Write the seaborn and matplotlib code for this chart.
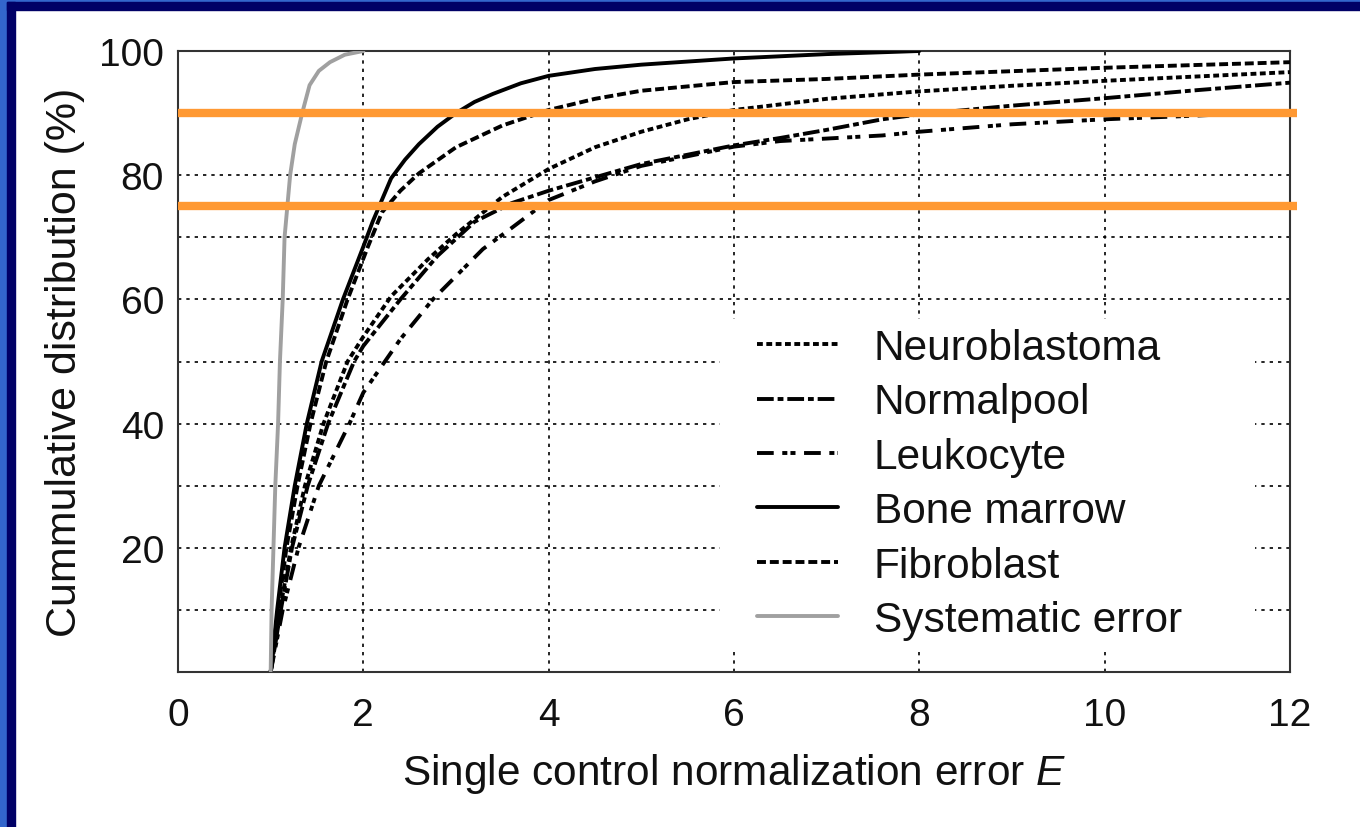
import matplotlib
matplotlib.use("Agg")
import matplotlib.pyplot as plt
from matplotlib.patches import Rectangle
from matplotlib.lines import Line2D
import seaborn as sns
import pandas as pd

# Cumulative distribution of the single-control normalization error E (%)
neuro_x = [1.0, 1.1, 1.22, 1.37, 1.57, 1.83, 2.0, 2.3, 2.7, 3.0, 3.5, 4.0, 4.5, 5.0,
           5.5, 6.0, 7.0, 8.0, 9.0, 10.0, 11.0, 12.0]
neuro_y = [0, 10, 20, 30, 40, 50, 54, 60.5, 66.5, 70.5, 76.5, 81, 84.5, 87,
           89, 90.5, 92.3, 93.5, 94.4, 95.2, 95.9, 96.6]

normal_x = [1.0, 1.11, 1.23, 1.4, 1.62, 1.9, 2.0, 2.4, 2.8, 3.2, 3.6, 4.0, 5.0, 6.0,
            6.5, 7.0, 7.6, 8.0, 9.0, 10.0, 11.0, 12.0]
normal_y = [0, 10, 20, 30, 40, 50, 52.5, 60, 67, 72.5, 75.5, 77.5, 81.8, 84.8,
            86, 87.3, 89, 89.8, 91.2, 92.4, 93.7, 94.9]

leuko_x = [1.0, 1.13, 1.3, 1.52, 1.85, 2.0, 2.4, 2.75, 3.29, 3.6, 4.0, 4.5, 5.0, 6.0,
           6.5, 7.0, 7.6, 8.0, 9.0, 10.0, 11.0, 12.0]
leuko_y = [0, 10, 20, 30, 40, 45, 53.6, 60, 68.1, 71.5, 76, 79, 81.5, 84.6,
           85.5, 85.9, 86.4, 87, 88.2, 89, 89.6, 90.3]

marrow_x = [1.0, 1.07, 1.15, 1.26, 1.39, 1.55, 1.78, 2.0, 2.1, 2.2, 2.3, 2.45, 2.6,
            2.8, 3.0, 3.2, 3.4, 3.7, 4.0, 4.5, 5.0, 6.0, 7.0, 8.0]
marrow_y = [0, 10, 20, 30, 40, 50, 60, 68.5, 72.5, 76, 79.5, 82.5, 85,
            87.8, 90, 91.8, 93.1, 94.8, 96, 97.1, 97.8, 98.8, 99.5, 100]

fibro_x = [1.0, 1.08, 1.17, 1.29, 1.43, 1.6, 1.83, 2.05, 2.2, 2.4, 2.6, 3.0, 3.5,
           4.0, 4.5, 5.0, 6.0, 7.0, 8.0, 10.0, 12.0]
fibro_y = [0, 10, 20, 30, 40, 50, 60, 68.5, 74, 77.5, 80.3, 84.5, 88,
           90.5, 92.3, 93.6, 95, 95.5, 96.2, 97.3, 98.2]

syst_x = [1.0, 1.01, 1.03, 1.05, 1.08, 1.1, 1.13, 1.15, 1.18, 1.21, 1.26, 1.34,
          1.42, 1.52, 1.64, 1.8, 2.0]
syst_y = [0, 10, 20, 30, 40, 50, 60, 70, 75, 80, 85, 90,
          94.5, 96.8, 98.2, 99.4, 100]

series_names = ["Neuroblastoma", "Normalpool", "Leukocyte", "Bone marrow",
                "Fibroblast", "Systematic error"]
reference_levels = [90, 75]

x_ticks = [0, 2, 4, 6, 8, 10, 12]
y_ticks = [20, 40, 60, 80, 100]

series_data = [
    (neuro_x, neuro_y),
    (normal_x, normal_y),
    (leuko_x, leuko_y),
    (marrow_x, marrow_y),
    (fibro_x, fibro_y),
    (syst_x, syst_y),
]

LW = 2.8
styles = {
    "Neuroblastoma": dict(color="black", ls=(0, (1.5, 0.9))),
    "Normalpool": dict(color="black", ls=(0, (4.3, 1.0, 1.5, 1.0))),
    "Leukocyte": dict(color="black", ls=(0, (4.3, 2.2, 1.3, 0.8, 1.3, 2.2))),
    "Bone marrow": dict(color="black", ls="-"),
    "Fibroblast": dict(color="black", ls=(0, (2.3, 1.0))),
    "Systematic error": dict(color="#a0a0a0", ls="-"),
}

frames = []
for name, (xs, ys) in zip(series_names, series_data):
    frames.append(pd.DataFrame({"E": xs, "cdf": ys, "series": name}))
df = pd.concat(frames, ignore_index=True)

sns.set_theme(style="white")
plt.rcParams["font.family"] = ["Liberation Sans", "DejaVu Sans"]
plt.rcParams["mathtext.fontset"] = "custom"
plt.rcParams["mathtext.rm"] = "Liberation Sans"
plt.rcParams["mathtext.it"] = "Liberation Sans:italic"

fig = plt.figure(figsize=(13.6, 8.28), dpi=100)
fig.patch.set_facecolor("white")

# slide frame: light blue outer strip and navy inner band (top and left)
W, H = 1360, 828
light = "#3366cc"
navy = "#000066"
fig.patches.append(Rectangle((0, 1 - 3 / H), 1, 3 / H, transform=fig.transFigure,
                             color=light, zorder=0))
fig.patches.append(Rectangle((0, 0), 7 / W, 1, transform=fig.transFigure,
                             color=light, zorder=0))
fig.patches.append(Rectangle((7 / W, 1 - 11 / H), 1, 8 / H, transform=fig.transFigure,
                             color=navy, zorder=1))
fig.patches.append(Rectangle((7 / W, 0), 8 / W, 1 - 3 / H, transform=fig.transFigure,
                             color=navy, zorder=1))

ax = fig.add_axes([178 / W, 1 - 673 / H, (1290 - 178) / W, (673 - 52) / H])
ax.set_facecolor("white")

for name in series_names:
    st = styles[name]
    sub = df[df["series"] == name]
    sns.lineplot(data=sub, x="E", y="cdf", ax=ax, color=st["color"],
                 linewidth=LW, linestyle=st["ls"], zorder=3)

for lvl in reference_levels:
    ax.axhline(lvl, xmin=0, xmax=1.006, color="#ff9933", lw=6.0,
               zorder=4, clip_on=False, solid_capstyle="butt")

ax.set_xlim(0, 12)
ax.set_ylim(0, 100)
ax.set_xticks(x_ticks)
ax.set_yticks(y_ticks)
ax.set_yticks([10, 30, 50, 70, 90], minor=True)
ax.tick_params(axis="both", which="both", length=0, labelsize=28, colors="#111111")
ax.tick_params(axis="x", pad=18)
ax.tick_params(axis="y", pad=10)
ax.grid(True, which="both", color="black", lw=1.2, ls=(0, (2.0, 3.0)), zorder=1)

for sp in ax.spines.values():
    sp.set_visible(True)
    sp.set_color("#333333")
    sp.set_linewidth(1.5)

ax.set_xlabel("Single control normalization error $E$", fontsize=30.5,
              labelpad=13, color="#111111")
ax.set_ylabel("Cummulative distribution (%)", fontsize=31, labelpad=10,
              color="#111111")

# white panel behind the legend entries (covers the grid there)
ax.add_patch(Rectangle((0.4874, 0.037), 0.9685 - 0.4874, 0.568 - 0.037,
                       transform=ax.transAxes, facecolor="white",
                       edgecolor="none", zorder=2))

handles = [Line2D([0], [0], color=styles[n]["color"], lw=LW,
                  ls=styles[n]["ls"]) for n in series_names]
leg = ax.legend(handles, series_names, loc="upper left",
                bbox_to_anchor=(0.5207, 0.554), fontsize=30.5, frameon=False,
                handlelength=1.9, handletextpad=0.85,
                labelspacing=0.34, borderpad=0, borderaxespad=0)
leg.set_zorder(5)
for t in leg.get_texts():
    t.set_color("#111111")

fig.savefig("out.png", dpi=100)
